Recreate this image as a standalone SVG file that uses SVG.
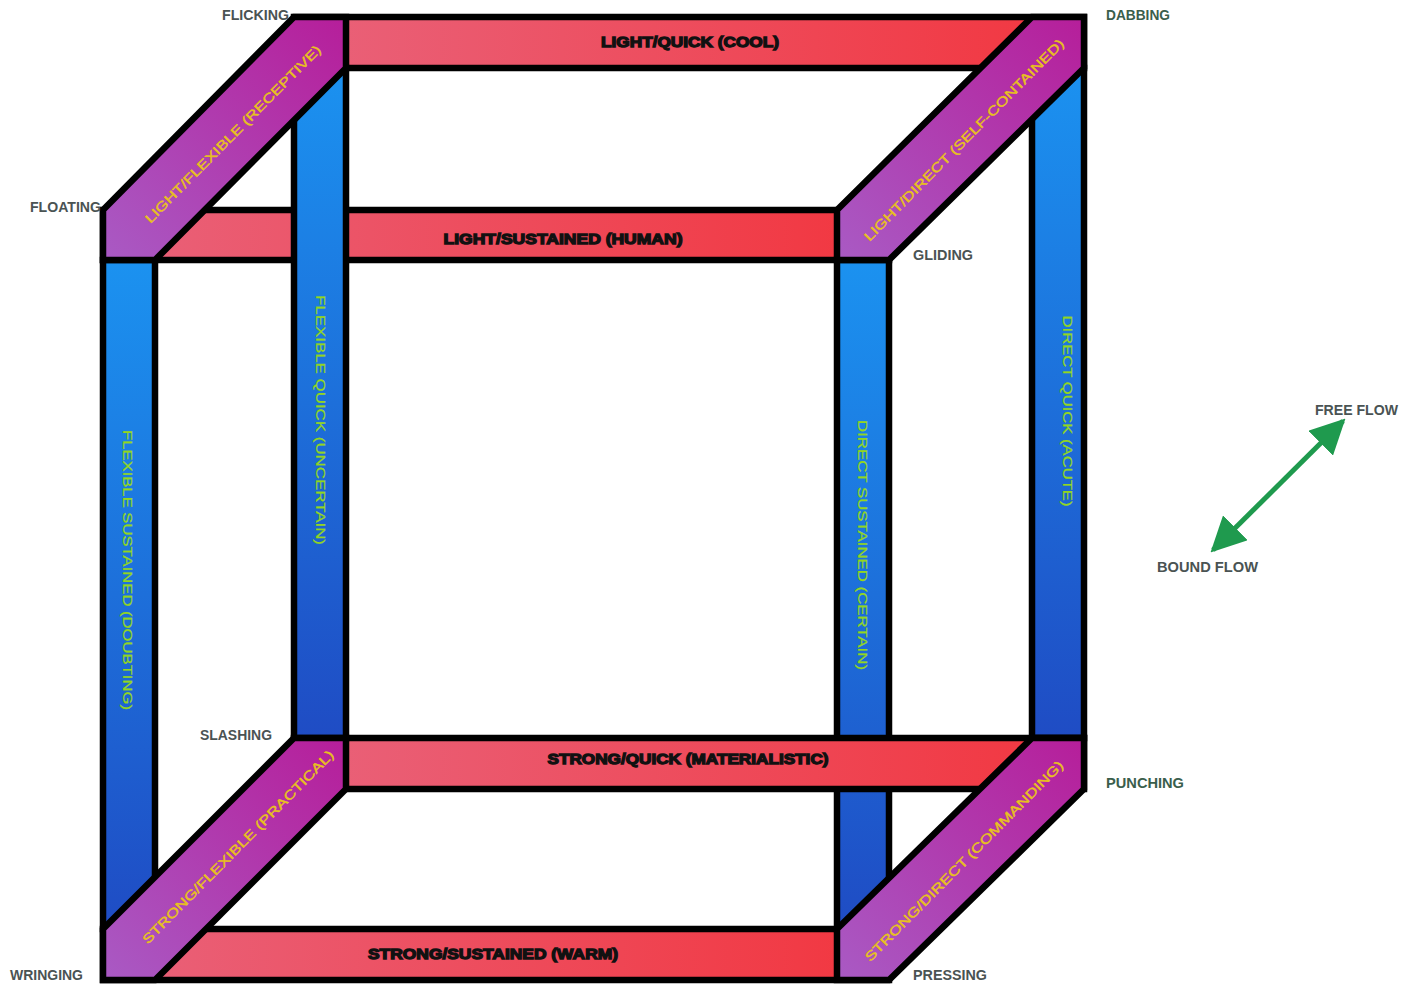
<svg xmlns="http://www.w3.org/2000/svg" width="1410" height="985" viewBox="0 0 1410 985">
  <defs>
    <linearGradient id="gRed" x1="0" y1="0" x2="1" y2="0">
      <stop offset="0" stop-color="#e9627a"/>
      <stop offset="1" stop-color="#f2363f"/>
    </linearGradient>
    <linearGradient id="gBlue" x1="0" y1="0" x2="0" y2="1">
      <stop offset="0" stop-color="#1b92f0"/>
      <stop offset="1" stop-color="#1f4cc4"/>
    </linearGradient>
    <linearGradient id="gPurple" x1="0" y1="1" x2="1" y2="0">
      <stop offset="0" stop-color="#a95ac4"/>
      <stop offset="1" stop-color="#b61e9a"/>
    </linearGradient>
    <marker id="flowHead" viewBox="0 0 10 10" refX="9" refY="5" markerWidth="7" markerHeight="7" markerUnits="strokeWidth" orient="auto-start-reverse">
      <path d="M0,0 L10,5 L0,10 Z" fill="#1f9a4e"/>
    </marker>
  </defs>
  <style>
    .bar { stroke: #000; stroke-width: 6.5; stroke-linejoin: miter; }
    .red { fill: url(#gRed); }
    .blue { fill: url(#gBlue); }
    .purple { fill: url(#gPurple); }
    .lblRed { font-family: "Liberation Sans", Arial, sans-serif; font-weight: bold; font-size: 15px; fill: #111; stroke: #111; stroke-width: 1.3; text-anchor: middle; }
    .lblBlue { font-family: "Liberation Sans", Arial, sans-serif; font-size: 13px; fill: #93d61e; stroke: #93d61e; stroke-width: 0.25; text-anchor: middle; dominant-baseline: central; }
    .lblPurple { font-family: "Liberation Sans", Arial, sans-serif; font-size: 13px; fill: #e8c21c; stroke: #e8c21c; stroke-width: 0.4; text-anchor: middle; dominant-baseline: central; }
    .corner { font-family: "Liberation Sans", Arial, sans-serif; font-weight: bold; font-size: 14px; fill: #4a5353; }
    .cornerG { font-family: "Liberation Sans", Arial, sans-serif; font-weight: bold; font-size: 14px; fill: #3a5e4c; }
    .flow { stroke: #1f9a4e; stroke-width: 5; fill: none; }
  </style>

  <rect width="1410" height="985" fill="#ffffff"/>

  <!-- horizontal bars (red) -->
  <g id="light-sustained">
    <rect class="bar red" x="103" y="210" width="786" height="50"/>
    <text class="lblRed" x="563" y="244" textLength="239" lengthAdjust="spacingAndGlyphs">LIGHT/SUSTAINED (HUMAN)</text>
  </g>
  <g id="strong-sustained">
    <rect class="bar red" x="103" y="929" width="786" height="51"/>
    <text class="lblRed" x="493" y="959" textLength="250" lengthAdjust="spacingAndGlyphs">STRONG/SUSTAINED (WARM)</text>
  </g>
  <g id="light-quick">
    <rect class="bar red" x="294" y="17" width="790" height="51"/>
    <text class="lblRed" x="690" y="47" textLength="178" lengthAdjust="spacingAndGlyphs">LIGHT/QUICK (COOL)</text>
  </g>

  <!-- vertical bars (blue) -->
  <g id="flexible-sustained">
    <rect class="bar blue" x="103" y="260" width="52" height="669"/>
    <text class="lblBlue" transform="translate(127,570) rotate(90)" textLength="280" lengthAdjust="spacingAndGlyphs">FLEXIBLE SUSTAINED (DOUBTING)</text>
  </g>
  <g id="direct-sustained">
    <rect class="bar blue" x="837" y="260" width="52" height="669"/>
    <text class="lblBlue" transform="translate(862,545) rotate(90)" textLength="250" lengthAdjust="spacingAndGlyphs">DIRECT SUSTAINED (CERTAIN)</text>
  </g>
  <g id="direct-quick">
    <rect class="bar blue" x="1032" y="68" width="52" height="670"/>
    <text class="lblBlue" transform="translate(1067,411) rotate(90)" textLength="191" lengthAdjust="spacingAndGlyphs">DIRECT QUICK (ACUTE)</text>
  </g>

  <g id="strong-quick">
    <rect class="bar red" x="294" y="738" width="790" height="51"/>
    <text class="lblRed" x="688" y="764" textLength="281" lengthAdjust="spacingAndGlyphs">STRONG/QUICK (MATERIALISTIC)</text>
  </g>

  <g id="flexible-quick">
    <rect class="bar blue" x="294" y="68" width="52" height="670"/>
    <text class="lblBlue" transform="translate(320,420) rotate(90)" textLength="250" lengthAdjust="spacingAndGlyphs">FLEXIBLE QUICK (UNCERTAIN)</text>
  </g>

  <!-- diagonal bars (purple) -->
  <g id="light-flexible">
    <polygon class="bar purple" points="103,210 294,17 346,17 346,68 155,260 103,260"/>
    <text class="lblPurple" transform="translate(233,134) rotate(-45.3)" textLength="244" lengthAdjust="spacingAndGlyphs">LIGHT/FLEXIBLE (RECEPTIVE)</text>
  </g>
  <g id="light-direct">
    <polygon class="bar purple" points="837,210 1032,17 1084,17 1084,68 889,260 837,260"/>
    <text class="lblPurple" transform="translate(964,140) rotate(-45.3)" textLength="278" lengthAdjust="spacingAndGlyphs">LIGHT/DIRECT (SELF-CONTAINED)</text>
  </g>
  <g id="strong-flexible">
    <polygon class="bar purple" points="103,929 294,738 346,738 346,789 155,980 103,980"/>
    <text class="lblPurple" transform="translate(238,847) rotate(-45.3)" textLength="266" lengthAdjust="spacingAndGlyphs">STRONG/FLEXIBLE (PRACTICAL)</text>
  </g>
  <g id="strong-direct">
    <polygon class="bar purple" points="837,929 1032,738 1084,738 1084,789 889,980 837,980"/>
    <text class="lblPurple" transform="translate(964,861) rotate(-45.3)" textLength="276" lengthAdjust="spacingAndGlyphs">STRONG/DIRECT (COMMANDING)</text>
  </g>

  <!-- corner names -->
  <g id="corner-labels">
    <text class="corner" x="222" y="20" textLength="67" lengthAdjust="spacingAndGlyphs">FLICKING</text>
    <text class="cornerG" x="1106" y="20" textLength="64" lengthAdjust="spacingAndGlyphs">DABBING</text>
    <text class="corner" x="30" y="212" textLength="71" lengthAdjust="spacingAndGlyphs">FLOATING</text>
    <text class="corner" x="913" y="260" textLength="60" lengthAdjust="spacingAndGlyphs">GLIDING</text>
    <text class="corner" x="200" y="740" textLength="72" lengthAdjust="spacingAndGlyphs">SLASHING</text>
    <text class="cornerG" x="1106" y="788" textLength="78" lengthAdjust="spacingAndGlyphs">PUNCHING</text>
    <text class="corner" x="913" y="980" textLength="74" lengthAdjust="spacingAndGlyphs">PRESSING</text>
    <text class="corner" x="10" y="980" textLength="73" lengthAdjust="spacingAndGlyphs">WRINGING</text>
    <text class="corner" x="1315" y="415" textLength="83" lengthAdjust="spacingAndGlyphs">FREE FLOW</text>
    <text class="corner" x="1157" y="572" textLength="101" lengthAdjust="spacingAndGlyphs">BOUND FLOW</text>
  </g>

  <!-- flow axis -->
  <g id="connectors">
    <line class="flow" x1="1213" y1="550" x2="1343" y2="421" marker-start="url(#flowHead)" marker-end="url(#flowHead)"/>
  </g>
</svg>
